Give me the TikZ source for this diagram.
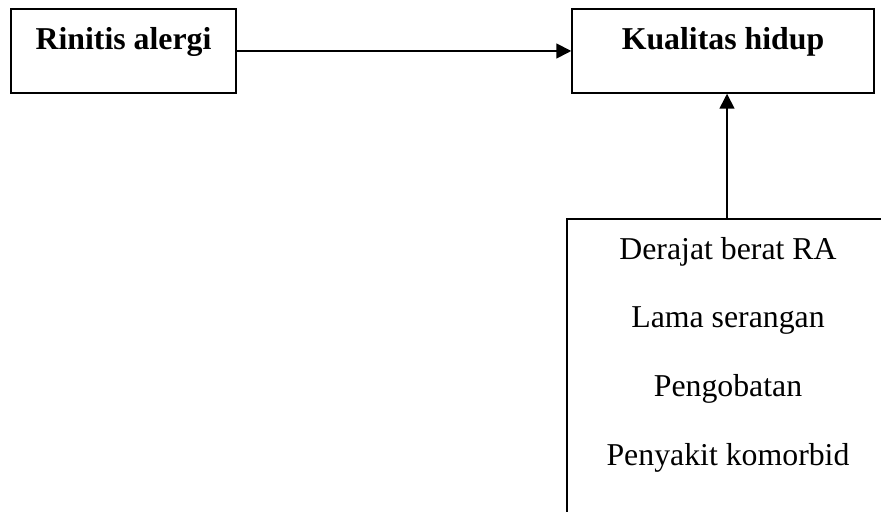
\documentclass[tikz,border=0pt]{standalone}
\usepackage{fontspec}
\setmainfont{Liberation Serif}
\usetikzlibrary{arrows.meta,positioning}
\tikzset{
  kotak/.style={draw, line width=0.75pt, inner sep=0pt},
  judul/.style={font=\fontsize{15.9}{19}\selectfont\bfseries, anchor=base},
  faktor/.style={font=\fontsize{15.9}{19}\selectfont, anchor=base},
  panah/.style={-{Triangle[length=7.5pt,width=7.5pt]}, line width=0.85pt}
}
\begin{document}
\begin{tikzpicture}[x=0.5pt,y=-0.5pt]
  \useasboundingbox (0,0) rectangle (881,512);
  \clip (0,0) rectangle (881,512);
  % kotak
  \node[kotak, minimum width=112.5pt, minimum height=42pt] (rinitis) at (123.5,51) {};
  \node[kotak, minimum width=151pt, minimum height=42pt] (kualitas) at (723,51) {};
  \node[kotak, minimum width=160pt, minimum height=170.5pt] (faktor) at (727,389.5) {};
  % teks
  \node[judul] (tRinitis) at (123.5,50) {Rinitis alergi};
  \node[judul] (tKualitas) at (723,50) {Kualitas hidup};
  \node[faktor] (f1) at (728,260) {Derajat berat RA};
  \node[faktor] (f2) at (728,328) {Lama serangan};
  \node[faktor] (f3) at (728,396.5) {Pengobatan};
  \node[faktor] (f4) at (728,465) {Penyakit komorbid};
  % panah
  \draw[panah] (rinitis) -- (kualitas);
  \draw[panah] (faktor.north) -- (faktor.north |- kualitas.south);
\end{tikzpicture}
\end{document}
